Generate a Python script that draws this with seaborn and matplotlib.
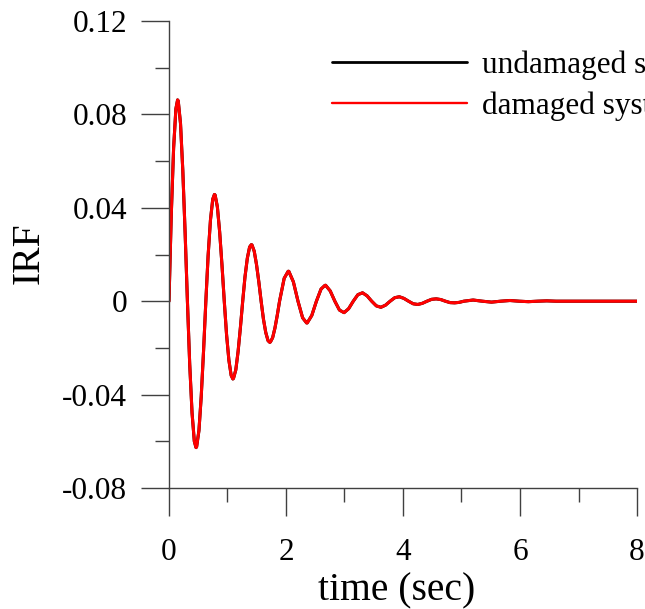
import numpy as np
import pandas as pd
import matplotlib
matplotlib.use("Agg")
import matplotlib.pyplot as plt
import seaborn as sns
from matplotlib.ticker import MultipleLocator, FixedLocator, FixedFormatter

# values (time in sec, impulse response)
time_s = [
    0.0, 0.039, 0.079, 0.118, 0.147, 0.158, 0.197, 0.236, 0.276, 0.315,
    0.354, 0.394, 0.433, 0.462, 0.472, 0.512, 0.551, 0.591, 0.630,
    0.669, 0.709, 0.748, 0.777, 0.788, 0.827, 0.866, 0.906, 0.945,
    0.984, 1.024, 1.063, 1.092, 1.102, 1.142, 1.181, 1.221, 1.260,
    1.299, 1.339, 1.378, 1.407, 1.418, 1.457, 1.496, 1.536, 1.575,
    1.614, 1.654, 1.693, 1.722, 1.733, 1.772, 1.811, 1.851, 1.890,
    1.969, 2.037, 2.048, 2.126, 2.205,
    2.284, 2.352, 2.363, 2.441, 2.520,
    2.599, 2.667, 2.678, 2.756, 2.835,
    2.914, 2.993, 3.071, 3.150,
    3.229, 3.308, 3.386, 3.465,
    3.544, 3.623, 3.701, 3.780,
    3.859, 3.938, 4.016, 4.095,
    4.174, 4.253, 4.331, 4.410,
    4.489, 4.568, 4.646, 4.725,
    4.804, 4.883, 4.961, 5.040,
    5.198, 5.355, 5.513, 5.670, 5.828, 5.985, 6.143, 6.300, 6.458, 6.615,
    7.000, 7.500, 8.000,
]
irf_undamaged = [
    0.0, 0.0370, 0.0656, 0.0824, 0.0862, 0.0858, 0.0761, 0.0560, 0.0291, 0.0,
    -0.0269, -0.0478, -0.0600, -0.0627, -0.0624, -0.0554, -0.0408, -0.0212, 0.0,
    0.0196, 0.0348, 0.0437, 0.0457, 0.0455, 0.0404, 0.0297, 0.0154, 0.0,
    -0.0143, -0.0253, -0.0318, -0.0333, -0.0331, -0.0294, -0.0216, -0.0112, 0.0,
    0.0104, 0.0184, 0.0232, 0.0242, 0.0241, 0.0214, 0.0157, 0.0082, 0.0,
    -0.0076, -0.0134, -0.0169, -0.0176, -0.0175, -0.0156, -0.0115, -0.0060, 0.0,
    0.0098, 0.0128, 0.0128, 0.0083, 0.0,
    -0.0071, -0.0093, -0.0093, -0.0061, 0.0,
    0.0052, 0.0068, 0.0068, 0.0044, 0.0,
    -0.0038, -0.0049, -0.0032, 0.0,
    0.0028, 0.0036, 0.0023, 0.0,
    -0.0020, -0.0026, -0.0017, 0.0,
    0.0015, 0.0019, 0.0012, 0.0,
    -0.0011, -0.0014, -0.0009, 0.0,
    0.0008, 0.0010, 0.0007, 0.0,
    -0.0006, -0.0007, -0.0005, 0.0,
    0.0005, 0.0, -0.0004, 0.0, 0.0003, 0.0, -0.0002, 0.0, 0.00015, 0.0,
    0.0, 0.0, 0.0,
]
# the damaged response lies on top of the undamaged one
irf_damaged = list(irf_undamaged)

series_names = ["undamaged system", "damaged system"]
series_colors = ["#000000", "#ff0000"]

y_ticks = [-0.08, -0.04, 0.0, 0.04, 0.08, 0.12]
y_tick_labels = ["-0.08", "-0.04", "0", "0.04", "0.08", "0.12"]
x_ticks = [0, 2, 4, 6, 8]
x_tick_labels = ["0", "2", "4", "6", "8"]

df = pd.DataFrame({
    "time": time_s * 2,
    "irf": irf_undamaged + irf_damaged,
    "system": [series_names[0]] * len(time_s) + [series_names[1]] * len(time_s),
})

sns.set_style("ticks")
plt.rcParams["font.family"] = ["Liberation Serif", "DejaVu Serif"]
plt.rcParams["text.color"] = "black"
plt.rcParams["axes.labelcolor"] = "black"

fig = plt.figure(figsize=(6.45, 6.09), dpi=100)
ax = fig.add_axes([0.262, 0.1987, 0.7256, 0.7668])

sns.lineplot(data=df, x="time", y="irf", hue="system", palette=series_colors,
             hue_order=series_names, estimator=None, sort=False,
             linewidth=2.2, ax=ax)

ax.set_xlim(0, 8)
ax.set_ylim(-0.08, 0.12)

ax.yaxis.set_major_locator(FixedLocator(y_ticks))
ax.yaxis.set_major_formatter(FixedFormatter(y_tick_labels))
ax.yaxis.set_minor_locator(MultipleLocator(0.02))
ax.xaxis.set_major_locator(FixedLocator(x_ticks))
ax.xaxis.set_major_formatter(FixedFormatter(x_tick_labels))
ax.xaxis.set_minor_locator(MultipleLocator(1))

for side in ["top", "right"]:
    ax.spines[side].set_visible(False)
for side in ["left", "bottom"]:
    ax.spines[side].set_color("#404040")
    ax.spines[side].set_linewidth(1.0)

ax.tick_params(which="major", direction="out", length=20, width=1.0,
               color="#404040", labelsize=22.5, labelcolor="black", pad=10)
ax.tick_params(axis="x", which="major", pad=16)
ax.tick_params(which="minor", direction="out", length=10, width=1.0,
               color="#404040")

ax.set_xlabel("time (sec)", fontsize=28.5, color="black")
ax.set_ylabel("IRF", fontsize=28.5, color="black")
ax.xaxis.set_label_coords(0.486, -0.18)
ax.yaxis.set_label_coords(-0.259, 0.503)

leg = ax.legend(loc="upper left", bbox_to_anchor=(0.5147, 0.917),
                bbox_transform=fig.transFigure, frameon=False, fontsize=22.5,
                handlelength=4.33, handletextpad=0.48, labelspacing=0.36,
                borderpad=0, borderaxespad=0)
for text in leg.get_texts():
    text.set_color("black")
for line, lw in zip(leg.get_lines(), [2.0, 1.7]):
    line.set_linewidth(lw)

fig.savefig("out.png", dpi=100)
